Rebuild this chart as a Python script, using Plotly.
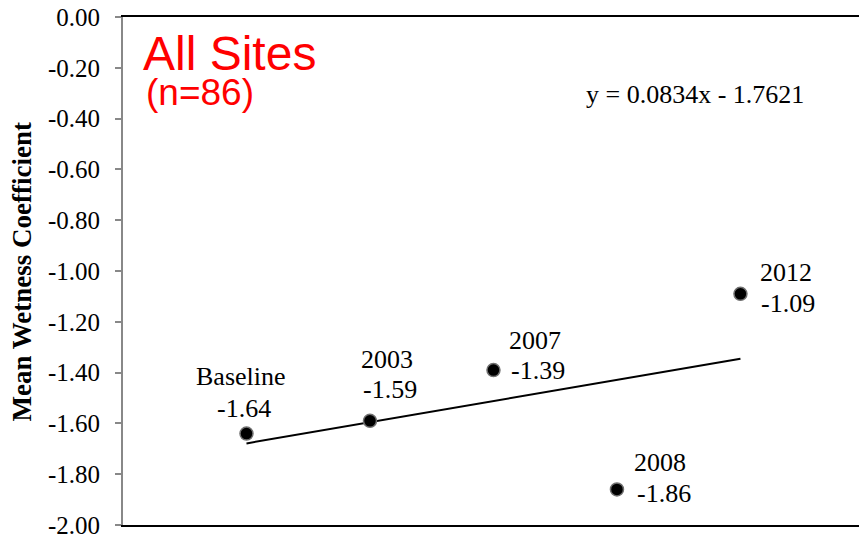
import plotly.graph_objects as go

categories = ["Baseline", "2003", "2007", "2008", "2012"]
x_pos = [1, 2, 3, 4, 5]
values = [-1.64, -1.59, -1.39, -1.86, -1.09]
slope = 0.0834
intercept = -1.7621
tick_vals = [0.0, -0.2, -0.4, -0.6, -0.8, -1.0, -1.2, -1.4, -1.6, -1.8, -2.0]
tick_text = ["0.00", "-0.20", "-0.40", "-0.60", "-0.80", "-1.00", "-1.20", "-1.40", "-1.60", "-1.80", "-2.00"]

# label placement (pixel offsets from each point): name line and value line
name_dx = [-5, 17, 42, 43, 46]
name_dy = [57, 61, 30, 27, 21]
val_dx = [-2, 20, 45, 47, 48]
val_dy = [25, 31, 0, -4, -10]

serif = "Liberation Serif, Times New Roman, serif"
sans = "Liberation Sans, Arial, sans-serif"

fig = go.Figure()

trend_x = [x_pos[0], x_pos[-1]]
trend_y = [slope * v + intercept for v in trend_x]
fig.add_trace(go.Scatter(x=trend_x, y=trend_y, mode="lines",
                         line=dict(color="black", width=2), hoverinfo="skip"))

fig.add_trace(go.Scatter(x=x_pos, y=values, mode="markers",
                         marker=dict(size=13, color="black",
                                     line=dict(color="#707070", width=1.5))))

for c, xv, yv, ndx, ndy, vdx, vdy in zip(categories, x_pos, values, name_dx, name_dy, val_dx, val_dy):
    fig.add_annotation(x=xv, y=yv, text=c, showarrow=False,
                       xanchor="center", yanchor="middle", xshift=ndx, yshift=ndy,
                       font=dict(family=serif, size=26, color="black"))
    fig.add_annotation(x=xv, y=yv, text=f"{yv:.2f}", showarrow=False,
                       xanchor="center", yanchor="middle", xshift=vdx, yshift=vdy,
                       font=dict(family=serif, size=26, color="black"))

fig.add_annotation(xref="paper", yref="paper", x=0.024, y=0.929, text="All Sites",
                   showarrow=False, xanchor="left", yanchor="middle",
                   font=dict(family=sans, size=48, color="#ff0000"))
fig.add_annotation(xref="paper", yref="paper", x=0.028, y=0.852, text="(n=86)",
                   showarrow=False, xanchor="left", yanchor="middle",
                   font=dict(family=sans, size=37, color="#ff0000"))
fig.add_annotation(xref="paper", yref="paper", x=0.626, y=0.848,
                   text=f"y = {slope}x - {abs(intercept)}",
                   showarrow=False, xanchor="left", yanchor="middle",
                   font=dict(family=serif, size=26, color="black"))
fig.add_annotation(xref="paper", yref="paper", x=-0.1366, y=0.498,
                   text="<b>Mean Wetness Coefficient</b>", textangle=-90,
                   showarrow=False, xanchor="center", yanchor="middle",
                   font=dict(family=serif, size=27, color="black"))

fig.update_layout(
    width=859, height=539,
    margin=dict(l=123, r=0, t=17, b=14),
    plot_bgcolor="white", paper_bgcolor="white",
    showlegend=False,
    xaxis=dict(range=[0, 5.96], showgrid=False, zeroline=False, showticklabels=False,
               ticks="", showline=True, linecolor="black", linewidth=2, mirror=True),
    yaxis=dict(range=[-2.0, 0.0], tickvals=tick_vals, ticktext=tick_text,
               showgrid=False, zeroline=False, ticks="outside", ticklen=6,
               tickcolor="#888888", tickwidth=1.5, ticklabelstandoff=10,
               showline=True, linecolor="#888888", linewidth=2,
               tickfont=dict(family=serif, size=25, color="black")),
)

fig.write_html("out.html")
